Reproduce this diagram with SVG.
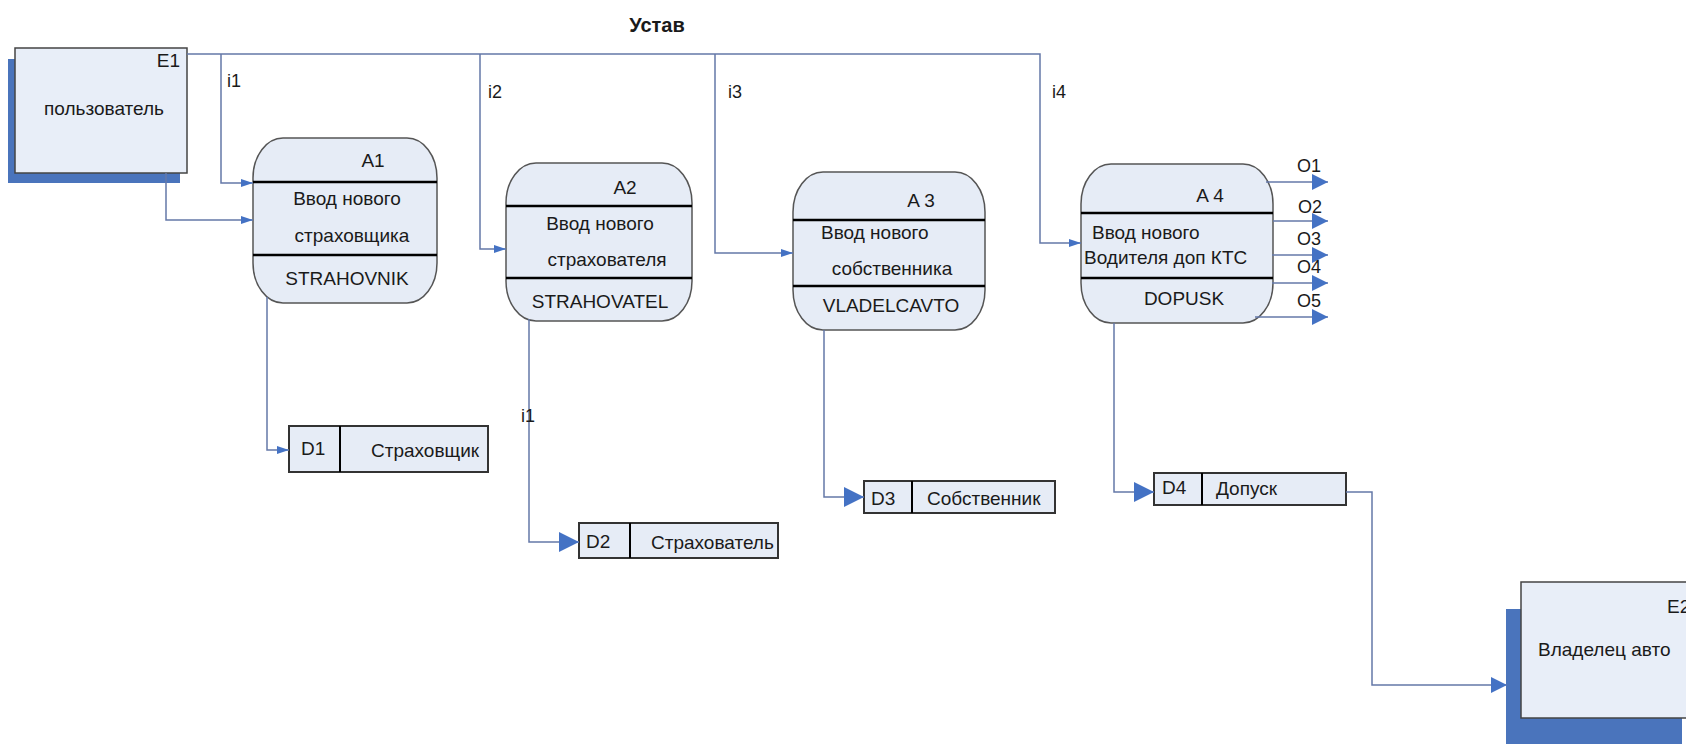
<svg xmlns="http://www.w3.org/2000/svg" width="1686" height="744" viewBox="0 0 1686 744">
<style>
text{font-family:"Liberation Sans",Arial,sans-serif;font-size:19px;fill:#1a1a1a}
.title{font-size:20px;font-weight:bold}
.lbl{font-size:18px}
.mid{text-anchor:middle}
.ent{fill:#e8eef8;stroke:#444;stroke-width:1.5}
.shadow{fill:#4a74bc}
.proc{fill:#e6ecf6;stroke:#555;stroke-width:1.5}
.div{stroke:#000;stroke-width:2.5}
.store{fill:#e6ecf6;stroke:#333;stroke-width:2}
.sdiv{stroke:#000;stroke-width:2}
.con{fill:none;stroke:#6478a8;stroke-width:1.5}
</style>
<defs>
<marker id="sm" viewBox="0 0 12 8" refX="12" refY="4" markerWidth="12" markerHeight="8" markerUnits="userSpaceOnUse" orient="auto"><path d="M0,0 L12,4 L0,8 z" fill="#4472c4"/></marker>
<marker id="md" viewBox="0 0 16 16" refX="16" refY="8" markerWidth="16" markerHeight="16" markerUnits="userSpaceOnUse" orient="auto"><path d="M0,0 L16,8 L0,16 z" fill="#4472c4"/></marker>
<marker id="lg" viewBox="0 0 20 20" refX="20" refY="10" markerWidth="20" markerHeight="20" markerUnits="userSpaceOnUse" orient="auto"><path d="M0,0 L20,10 L0,20 z" fill="#4472c4"/></marker>
</defs>
<rect width="1686" height="744" fill="#fff"/>
<text class="title mid" x="657" y="32">Устав</text>
<g id="E1">
<rect class="shadow" x="8" y="59" width="172" height="124"/>
<rect class="ent" x="15" y="48" width="172" height="125"/>
<text x="180" y="67" text-anchor="end">E1</text>
<text class="mid" x="104" y="115">пользователь</text>
</g>
<g id="E2">
<rect class="shadow" x="1506" y="609" width="176" height="140"/>
<rect class="ent" x="1521" y="582" width="180" height="136"/>
<text x="1667" y="613">E2</text>
<text x="1538" y="656">Владелец авто</text>
</g>
<g id="A1">
<rect class="proc" x="253" y="138" width="184" height="165" rx="30" ry="40"/>
<line class="div" x1="253" y1="182" x2="437" y2="182"/>
<line class="div" x1="253" y1="255" x2="437" y2="255"/>
<text class="mid" x="373" y="167">A1</text>
<text class="mid" x="347" y="205">Ввод нового</text>
<text class="mid" x="352" y="242">страховщика</text>
<text class="mid" x="347" y="285">STRAHOVNIK</text>
</g>
<g id="A2">
<rect class="proc" x="506" y="163" width="186" height="158" rx="30" ry="40"/>
<line class="div" x1="506" y1="206" x2="692" y2="206"/>
<line class="div" x1="506" y1="278" x2="692" y2="278"/>
<text class="mid" x="625" y="194">A2</text>
<text class="mid" x="600" y="230">Ввод нового</text>
<text class="mid" x="607" y="266">страхователя</text>
<text class="mid" x="600" y="308">STRAHOVATEL</text>
</g>
<g id="A3">
<rect class="proc" x="793" y="172" width="192" height="158" rx="30" ry="40"/>
<line class="div" x1="793" y1="220" x2="985" y2="220"/>
<line class="div" x1="793" y1="286" x2="985" y2="286"/>
<text class="mid" x="921" y="207">A 3</text>
<text x="821" y="239">Ввод нового</text>
<text class="mid" x="892" y="275">собственника</text>
<text class="mid" x="891" y="312">VLADELCAVTO</text>
</g>
<g id="A4">
<rect class="proc" x="1081" y="164" width="192" height="159" rx="30" ry="40"/>
<line class="div" x1="1081" y1="213" x2="1273" y2="213"/>
<line class="div" x1="1081" y1="278" x2="1273" y2="278"/>
<text class="mid" x="1210" y="202">A 4</text>
<text x="1092" y="239">Ввод нового</text>
<text x="1084" y="264">Водителя доп КТС</text>
<text class="mid" x="1184" y="305">DOPUSK</text>
</g>
<g id="D1">
<rect class="store" x="289" y="426" width="199" height="46"/>
<line class="sdiv" x1="340" y1="426" x2="340" y2="472"/>
<text x="301" y="455">D1</text>
<text x="371" y="457">Страховщик</text>
</g>
<g id="D2">
<rect class="store" x="579" y="523" width="199" height="35"/>
<line class="sdiv" x1="630" y1="523" x2="630" y2="558"/>
<text x="586" y="548">D2</text>
<text x="651" y="549">Страхователь</text>
</g>
<g id="D3">
<rect class="store" x="864" y="481" width="191" height="32"/>
<line class="sdiv" x1="912" y1="481" x2="912" y2="513"/>
<text x="871" y="505">D3</text>
<text x="927" y="505">Собственник</text>
</g>
<g id="D4">
<rect class="store" x="1154" y="473" width="192" height="32"/>
<line class="sdiv" x1="1202" y1="473" x2="1202" y2="505"/>
<text x="1162" y="494">D4</text>
<text x="1216" y="495">Допуск</text>
</g>
<g id="connectors">
<path class="con" d="M187,54 H1040 V243 H1081" marker-end="url(#sm)"/>
<path class="con" d="M221,54 V183 H253" marker-end="url(#sm)"/>
<path class="con" d="M480,54 V249 H506" marker-end="url(#sm)"/>
<path class="con" d="M715,54 V253 H793" marker-end="url(#sm)"/>
<path class="con" d="M166,173 V220 H253" marker-end="url(#sm)"/>
<path class="con" d="M267,297 V450 H289" marker-end="url(#sm)"/>
<path class="con" d="M529,319 V542 H579" marker-end="url(#lg)"/>
<path class="con" d="M824,330 V497 H864" marker-end="url(#lg)"/>
<path class="con" d="M1114,323 V492 H1154" marker-end="url(#lg)"/>
<path class="con" d="M1346,492 H1372 V685 H1507" marker-end="url(#md)"/>
<path class="con" d="M1266,182 H1328" marker-end="url(#md)"/>
<path class="con" d="M1273,221 H1328" marker-end="url(#md)"/>
<path class="con" d="M1272,255 H1328" marker-end="url(#md)"/>
<path class="con" d="M1272,283 H1328" marker-end="url(#md)"/>
<path class="con" d="M1255,317 H1328" marker-end="url(#md)"/>
<text class="lbl" x="227" y="87">i1</text>
<text class="lbl" x="488" y="98">i2</text>
<text class="lbl" x="728" y="98">i3</text>
<text class="lbl" x="1052" y="98">i4</text>
<text class="lbl" x="521" y="422">i1</text>
<text class="lbl" x="1297" y="172">O1</text>
<text class="lbl" x="1298" y="213">O2</text>
<text class="lbl" x="1297" y="245">O3</text>
<text class="lbl" x="1297" y="273">O4</text>
<text class="lbl" x="1297" y="307">O5</text>
</g>
</svg>
